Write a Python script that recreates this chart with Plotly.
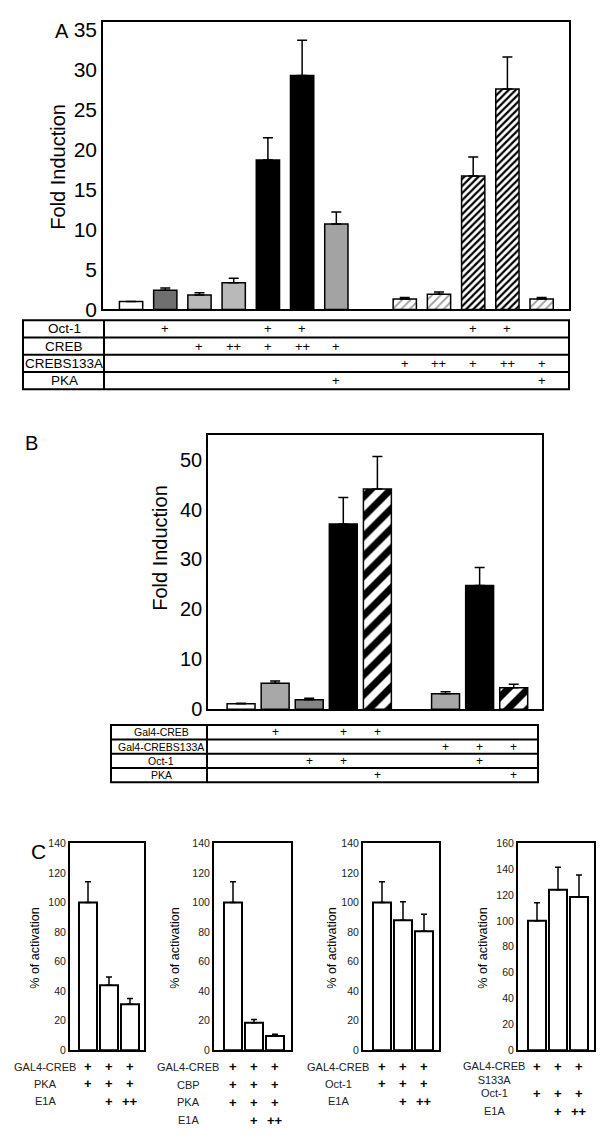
import plotly.graph_objects as go

# page body keeps an 8px margin, so the figure is drawn 8px in and smaller
W, H = 607, 1144
OFF = 8
FW, FH = W - 2 * OFF, H - 2 * OFF
FONT = "Liberation Sans, Arial, sans-serif"

# ---- panel A data ----
a_vals = [1.0, 2.4, 1.8, 3.35, 18.7, 29.3, 10.7, 1.3, 1.9, 16.7, 27.6, 1.3]
a_err = [0, 0.3, 0.3, 0.55, 2.8, 4.4, 1.5, 0.2, 0.3, 2.4, 4.0, 0.2]
a_pos = [0, 1, 2, 3, 4, 5, 6, 8, 9, 10, 11, 12]
a_rows = ["Oct-1", "CREB", "CREBS133A", "PKA"]
a_marks = [
    ["", "+", "", "", "+", "+", "", "", "", "+", "+", ""],
    ["", "", "+", "++", "+", "++", "+", "", "", "", "", ""],
    ["", "", "", "", "", "", "", "+", "++", "+", "++", "+"],
    ["", "", "", "", "", "", "+", "", "", "", "", "+"],
]

# ---- panel B data ----
b_vals = [1.1, 5.2, 1.9, 37.1, 44.1, 3.1, 24.8, 4.3]
b_err = [0.1, 0.5, 0.3, 5.3, 6.5, 0.4, 3.6, 0.7]
b_pos = [0, 1, 2, 3, 4, 6, 7, 8]
b_rows = ["Gal4-CREB", "Gal4-CREBS133A", "Oct-1", "PKA"]
b_marks = [
    ["", "+", "", "+", "+", "", "", ""],
    ["", "", "", "", "", "+", "+", "+"],
    ["", "", "+", "+", "", "", "+", ""],
    ["", "", "", "", "+", "", "", "+"],
]

# ---- panel C data ----
c1_vals = [100, 44, 31]
c1_err = [14, 5.5, 4]
c1_rows = ["GAL4-CREB", "PKA", "E1A"]
c1_marks = [["+", "+", "+"], ["+", "+", "+"], ["", "+", "++"]]

c2_vals = [100, 18.5, 9.6]
c2_err = [14, 2.3, 1.1]
c2_rows = ["GAL4-CREB", "CBP", "PKA", "E1A"]
c2_marks = [["+", "+", "+"], ["+", "+", "+"], ["+", "+", "+"], ["", "+", "++"]]

c3_vals = [100, 88, 80.5]
c3_err = [14, 12.5, 11.5]
c3_rows = ["GAL4-CREB", "Oct-1", "E1A"]
c3_marks = [["+", "+", "+"], ["+", "+", "+"], ["", "+", "++"]]

c4_vals = [100, 124, 118.5]
c4_err = [14, 17.5, 17]
c4_rows = ["GAL4-CREB<br>S133A", "Oct-1", "E1A"]
c4_marks = [["+", "+", "+"], ["+", "+", "+"], ["", "+", "++"]]


def px(x):
    return (x - OFF) / FW


def py(y):
    return 1 - (y - OFF) / FH


fig = go.Figure()


def bars(idx, pos, vals, errs, xa, ya, width, color, pattern=None, lw=1.5, cap=5):
    marker = dict(color=[color[i] for i in idx] if isinstance(color, list) else color,
                  line=dict(color="black", width=lw))
    if pattern:
        marker["pattern"] = pattern
    fig.add_trace(go.Bar(
        x=[pos[i] for i in idx], y=[vals[i] for i in idx], width=width,
        xaxis=xa, yaxis=ya, marker=marker,
        error_y=dict(type="data", symmetric=False, array=[errs[i] for i in idx],
                     arrayminus=[0] * len(idx), color="black", thickness=1.5, width=cap),
    ))


# panel A bars
a_fill = ["white", "#6f6f6f", "#b9b9b9", "#b9b9b9", "black", "black", "#a3a3a3"]
bars([0, 1, 2, 3, 4, 5, 6], a_pos, a_vals, a_err, "x", "y", 0.68, a_fill)
bars([7, 8, 11], a_pos, a_vals, a_err, "x", "y", 0.68, "white",
     dict(shape="/", fgcolor="#9a9a9a", bgcolor="white", size=6, solidity=0.3,
          fillmode="replace"))
bars([9, 10], a_pos, a_vals, a_err, "x", "y", 0.68, "white",
     dict(shape="/", fgcolor="black", bgcolor="white", size=5, solidity=0.45,
          fillmode="replace"))

# panel B bars
b_fill = ["white", "#a8a8a8", "#858585", "black", None, "#a8a8a8", "black", None]
bars([0, 1, 2, 3, 5, 6], b_pos, b_vals, b_err, "x2", "y2", 0.82, b_fill)
bars([4, 7], b_pos, b_vals, b_err, "x2", "y2", 0.82, "white",
     dict(shape="/", fgcolor="black", bgcolor="white", size=14, solidity=0.5,
          fillmode="replace"))

# panel C bars
c_sets = [(c1_vals, c1_err), (c2_vals, c2_err), (c3_vals, c3_err), (c4_vals, c4_err)]
for i, (vals, errs) in enumerate(c_sets):
    bars([0, 1, 2], [0, 1, 2], vals, errs, "x%d" % (i + 3), "y%d" % (i + 3), 0.86,
         "white", lw=2, cap=3)

box = dict(showline=True, mirror=True, linecolor="black", showgrid=False,
           zeroline=False, ticks="")

layout = dict(
    width=FW, height=FH, autosize=False, showlegend=False,
    margin=dict(l=0, r=0, t=0, b=0),
    paper_bgcolor="white", plot_bgcolor="white",
    font=dict(family=FONT, color="black"),
    barmode="overlay",
)

layout["xaxis"] = dict(box, domain=[px(103), px(569)], range=[-0.82, 12.8],
                       showticklabels=False, linewidth=1.5, anchor="y")
layout["yaxis"] = dict(box, domain=[py(308), py(16)], range=[0, 36],
                       tickvals=[0, 5, 10, 15, 20, 25, 30, 35], linewidth=1.5,
                       tickfont=dict(size=21), anchor="x")
layout["xaxis2"] = dict(box, domain=[px(208), px(542)], range=[-0.97, 8.83],
                        showticklabels=False, linewidth=1.5, anchor="y2")
layout["yaxis2"] = dict(box, domain=[py(714), py(435)], range=[0, 55],
                        tickvals=[0, 10, 20, 30, 40, 50], linewidth=1.5,
                        tickfont=dict(size=20), anchor="x2")

c_left = [70, 214, 363, 518]
c_right = [144, 291, 439, 594]
c_first = [88, 233, 382, 537]
c_top = [140, 140, 140, 160]
for i in range(4):
    n = i + 3
    step = 21.0
    lo = (c_left[i] - c_first[i]) / step
    hi = (c_right[i] - c_first[i]) / step
    layout["xaxis%d" % n] = dict(box, domain=[px(c_left[i]), px(c_right[i])],
                                 range=[lo, hi], showticklabels=False,
                                 linewidth=2, anchor="y%d" % n)
    layout["yaxis%d" % n] = dict(box, domain=[py(1060), py(850)], range=[0, c_top[i]],
                                 dtick=20, linewidth=2, tickfont=dict(size=10.5, color="#222"),
                                 anchor="x%d" % n)

fig.update_layout(**layout)

shapes = []
ann = []


def text(t, x, y, size, xref="paper", angle=0, color="black"):
    ann.append(dict(text=t, x=x, y=y, xref=xref, yref="paper", showarrow=False,
                    xanchor="center", yanchor="middle", textangle=angle,
                    font=dict(size=size, color=color)))


def table(left, mid, right, ys, lw=2):
    shapes.append(dict(type="rect", xref="paper", yref="paper", x0=px(left), x1=px(right),
                       y0=py(ys[-1]), y1=py(ys[0]), line=dict(color="black", width=lw)))
    shapes.append(dict(type="line", xref="paper", yref="paper", x0=px(mid), x1=px(mid),
                       y0=py(ys[-1]), y1=py(ys[0]), line=dict(color="black", width=lw)))
    for y in ys[1:-1]:
        shapes.append(dict(type="line", xref="paper", yref="paper", x0=px(left), x1=px(right),
                           y0=py(y), y1=py(y), line=dict(color="black", width=lw)))


a_lines = [319, 336.5, 354, 371.5, 389]
table(23, 104, 569, a_lines)
for r, name in enumerate(a_rows):
    yc = (a_lines[r] + a_lines[r + 1]) / 2
    text(name, px(64), py(yc), 13.5)
    for k, m in enumerate(a_marks[r]):
        if m:
            text(m, a_pos[k], py(yc), 13, xref="x")

b_lines = [730, 744.5, 759, 773.5, 788]
table(111, 207, 538, b_lines)
for r, name in enumerate(b_rows):
    yc = (b_lines[r] + b_lines[r + 1]) / 2
    text(name, px(161), py(yc), 10.5)
    for k, m in enumerate(b_marks[r]):
        if m:
            text(m, b_pos[k], py(yc), 12, xref="x2")

# C row labels
c_rows = [c1_rows, c2_rows, c3_rows, c4_rows]
c_marks = [c1_marks, c2_marks, c3_marks, c4_marks]
c_label_x = [45, 188, 338, 494]
c_row_y = [[1077, 1094, 1112], [1077, 1095, 1113, 1131], [1077, 1094, 1112],
           [1077, 1104, 1122]]
c_label_y = [[1077, 1094, 1112], [1077, 1095, 1113, 1131], [1077, 1094, 1112],
             [1083, 1104, 1122]]
for i in range(4):
    for r, name in enumerate(c_rows[i]):
        text(name, px(c_label_x[i]), py(c_label_y[i][r]), 11, color="#222")
        for k, m in enumerate(c_marks[i][r]):
            if m:
                text("<b>%s</b>" % m, k, py(c_row_y[i][r]), 13, xref="x%d" % (i + 3))

# axis titles and panel letters
text("Fold Induction", px(58), py(163), 20, angle=-90)
text("Fold Induction", px(160), py(550), 20, angle=-90)
for xt in [35, 175, 332, 483]:
    text("% of activation", px(xt), py(957), 12.5, angle=-90)
text("A", px(62), py(25), 20)
text("B", px(31), py(444), 20)
text("C", px(38), py(858), 21)

fig.update_layout(shapes=shapes, annotations=ann)
fig.write_html("out.html")
